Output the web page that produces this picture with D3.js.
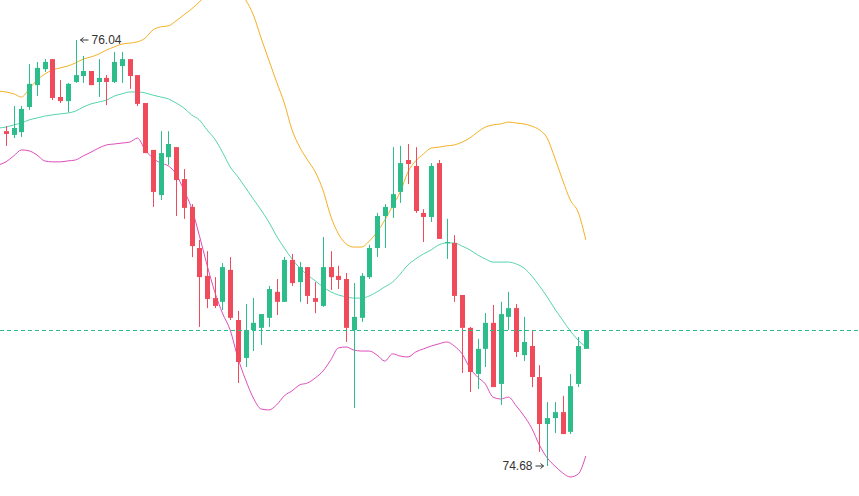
<!DOCTYPE html>
<html><head><meta charset="utf-8">
<script src="https://cdn.jsdelivr.net/npm/d3@7"></script>
<style>html,body{margin:0;padding:0;background:#fff;}svg{display:block;}</style>
</head><body><div id="chart"></div>
<script>
// OHLC candles (price)
const opens  = [75.749,75.737,75.746,75.826,75.896,75.947,75.979,75.858,75.845,75.906,75.925,75.941,75.906,75.919,75.906,75.957,75.979,75.928,75.839,75.689,75.545,75.666,75.698,75.596,75.507,75.376,75.287,75.216,75.204,75.306,75.146,75.025,75.114,75.121,75.153,75.236,75.204,75.338,75.267,75.315,75.216,75.191,75.315,75.287,75.277,75.114,75.153,75.283,75.376,75.478,75.504,75.555,75.657,75.638,75.488,75.475,75.647,75.392,75.392,75.226,75.121,74.974,75.054,75.137,74.942,75.156,75.184,75.034,75.063,74.964,74.814,74.833,74.852,74.789,74.942,75.054];
const highs  = [75.765,75.829,75.829,75.963,75.970,75.979,75.979,75.912,75.903,76.040,75.989,75.941,75.979,75.928,76.002,76.002,75.979,75.928,75.839,75.689,75.749,75.749,75.698,75.628,75.516,75.402,75.366,75.283,75.328,75.347,75.175,75.197,75.216,75.165,75.255,75.277,75.347,75.357,75.331,75.315,75.267,75.411,75.366,75.319,75.296,75.264,75.296,75.386,75.488,75.516,75.698,75.702,75.708,75.698,75.500,75.647,75.657,75.469,75.417,75.226,75.124,75.086,75.168,75.194,75.204,75.236,75.197,75.156,75.114,75.002,74.884,74.884,74.904,74.974,75.092,75.114];
const lows   = [75.702,75.727,75.730,75.817,75.861,75.938,75.848,75.839,75.810,75.903,75.903,75.896,75.858,75.832,75.903,75.903,75.884,75.829,75.679,75.507,75.529,75.641,75.478,75.469,75.347,75.124,75.184,75.184,75.178,75.146,74.945,74.996,75.047,75.066,75.124,75.162,75.204,75.255,75.204,75.197,75.168,75.188,75.242,75.245,75.076,74.865,75.140,75.277,75.347,75.376,75.472,75.520,75.580,75.488,75.395,75.459,75.405,75.341,75.204,74.977,74.916,74.926,74.996,74.932,74.875,75.114,75.028,75.015,74.932,74.725,74.680,74.785,74.782,74.782,74.932,75.054];
const closes = [75.740,75.759,75.820,75.900,75.951,75.970,75.855,75.845,75.900,75.928,75.941,75.896,75.919,75.906,75.970,75.979,75.925,75.836,75.679,75.555,75.679,75.708,75.593,75.504,75.382,75.283,75.213,75.191,75.315,75.153,75.012,75.114,75.137,75.165,75.245,75.204,75.338,75.264,75.315,75.223,75.204,75.315,75.283,75.274,75.121,75.156,75.287,75.376,75.478,75.507,75.548,75.647,75.644,75.494,75.475,75.638,75.405,75.395,75.223,75.121,74.980,75.054,75.137,74.932,75.165,75.184,75.044,75.076,74.964,74.814,74.833,74.852,74.782,74.935,75.063,75.114];

// Bollinger bands; first value belongs to the bar just left of the view (index -1)
const bollUpper = [75.877,75.874,75.868,75.858,75.884,75.912,75.931,75.944,75.951,75.957,75.967,75.979,75.986,75.995,76.008,76.018,76.027,76.030,76.034,76.046,76.072,76.082,76.085,76.101,76.120,76.139,76.161,76.187,76.206,76.219,76.219,76.200,76.168,76.120,76.046,75.976,75.906,75.839,75.753,75.698,75.657,75.619,75.561,75.478,75.421,75.389,75.379,75.379,75.398,75.427,75.465,75.510,75.555,75.619,75.654,75.676,75.695,75.698,75.702,75.705,75.714,75.727,75.746,75.762,75.769,75.772,75.778,75.775,75.772,75.765,75.753,75.727,75.663,75.593,75.529,75.491,75.402];
const bollMid   = [75.759,75.762,75.769,75.775,75.785,75.791,75.797,75.801,75.804,75.807,75.813,75.826,75.836,75.842,75.848,75.861,75.868,75.874,75.874,75.871,75.864,75.858,75.852,75.839,75.823,75.801,75.785,75.753,75.724,75.682,75.635,75.603,75.568,75.532,75.497,75.459,75.414,75.376,75.341,75.312,75.290,75.271,75.252,75.236,75.226,75.220,75.216,75.216,75.223,75.236,75.252,75.267,75.293,75.322,75.341,75.357,75.370,75.386,75.392,75.392,75.382,75.370,75.354,75.341,75.331,75.331,75.331,75.325,75.312,75.287,75.255,75.220,75.181,75.146,75.111,75.082,75.060];
const bollLower = [75.641,75.651,75.670,75.689,75.686,75.673,75.654,75.651,75.651,75.654,75.657,75.670,75.682,75.695,75.705,75.708,75.711,75.714,75.727,75.689,75.663,75.647,75.638,75.612,75.561,75.504,75.417,75.322,75.236,75.168,75.114,75.025,74.955,74.897,74.862,74.859,74.875,74.904,74.920,74.939,74.945,74.961,74.983,75.018,75.057,75.060,75.050,75.047,75.047,75.034,75.015,75.038,75.031,75.028,75.044,75.054,75.063,75.070,75.076,75.063,75.038,74.993,74.964,74.942,74.900,74.894,74.900,74.872,74.840,74.801,74.747,74.706,74.680,74.658,74.645,74.654,74.712];

const W = 859, H = 496;
const UP = "#2dbd8b", DOWN = "#ef4b5b";
const n = closes.length;
const x = d3.scaleLinear().domain([0, n - 1]).range([6, 585.8]);
const y = d3.scaleLinear().domain([74.68, 76.04]).range([466, 40]);

const svg = d3.select("#chart").append("svg").attr("width", W).attr("height", H);
const root = svg.append("g");

// bands
const bandLine = d3.line().x((d, i) => x(i - 1)).y(d => y(d)).curve(d3.curveMonotoneX);
[[bollUpper, "#f5b025"], [bollMid, "#56d3b0"], [bollLower, "#dd4dbb"]].forEach(([arr, col]) => {
  root.append("path").attr("d", bandLine(arr)).attr("fill", "none")
    .attr("stroke", col).attr("stroke-width", 1);
});

// candles
const candles = d3.range(n).map(i => ({i, o: opens[i], h: highs[i], l: lows[i], c: closes[i]}));
const bw = 5;
const g = root.append("g");
g.selectAll("line.wick").data(candles).join("line")
  .attr("x1", d => Math.round(x(d.i)) + 0.5).attr("x2", d => Math.round(x(d.i)) + 0.5)
  .attr("y1", d => y(d.h)).attr("y2", d => y(d.l))
  .attr("stroke", d => d.c >= d.o ? UP : DOWN).attr("stroke-width", 1);
g.selectAll("rect.body").data(candles).join("rect")
  .attr("x", d => Math.round(x(d.i)) + 0.5 - bw / 2)
  .attr("width", bw)
  .attr("y", d => y(Math.max(d.o, d.c)))
  .attr("height", d => Math.max(1, Math.abs(y(d.o) - y(d.c))))
  .attr("fill", d => d.c >= d.o ? UP : DOWN);

// last price dashed line
const last = closes[n - 1];
root.append("line").attr("x1", 0).attr("x2", W).attr("y1", Math.round(y(last)) + 0.5).attr("y2", Math.round(y(last)) + 0.5)
  .attr("stroke", UP).attr("stroke-width", 1).attr("stroke-dasharray", "4,3");

// high / low marks
const hiIdx = d3.maxIndex(highs), loIdx = d3.minIndex(lows);
const hx = Math.round(x(hiIdx)) + 0.5, hy = y(highs[hiIdx]);
const lx = Math.round(x(loIdx)) + 0.5, ly = y(lows[loIdx]);
const mark = root.append("g").attr("stroke", "#333").attr("fill", "none").attr("stroke-width", 1);
mark.append("path").attr("d", `M${hx+4},${hy} L${hx+12},${hy} M${hx+4},${hy} L${hx+7},${hy-2.5} M${hx+4},${hy} L${hx+7},${hy+2.5}`);
mark.append("path").attr("d", `M${lx-4},${ly} L${lx-12},${ly} M${lx-4},${ly} L${lx-7},${ly-2.5} M${lx-4},${ly} L${lx-7},${ly+2.5}`);
root.append("text").attr("x", hx + 15).attr("y", hy).attr("dy", "0.35em")
  .attr("font-family", "Liberation Sans, Arial, sans-serif").attr("font-size", 12).attr("fill", "#333")
  .text(highs[hiIdx].toFixed(2));
root.append("text").attr("x", lx - 15).attr("y", ly).attr("dy", "0.35em").attr("text-anchor", "end")
  .attr("font-family", "Liberation Sans, Arial, sans-serif").attr("font-size", 12).attr("fill", "#333")
  .text(lows[loIdx].toFixed(2));
</script></body></html>
